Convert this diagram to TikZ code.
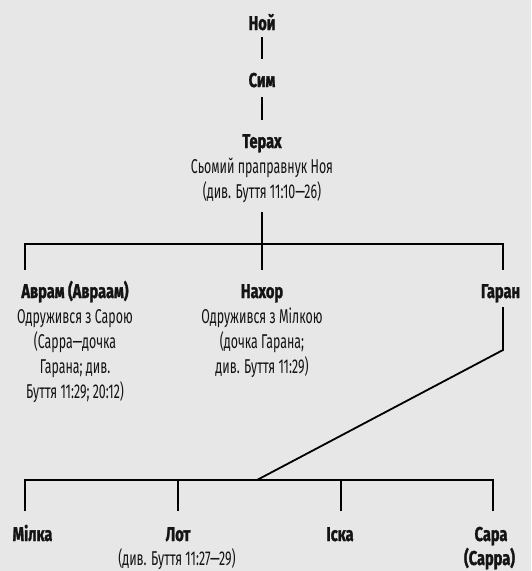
\documentclass[tikz,border=0pt]{standalone}
\usepackage{fontspec}
\setmainfont[FakeStretch=0.62,BoldFeatures={FakeStretch=0.73,FakeBold=1.4}]{Fira Sans}
\definecolor{bg}{RGB}{231,231,231}
\definecolor{ink}{RGB}{20,20,20}
\begin{document}
\begin{tikzpicture}[x=1pt,y=-1pt,line width=1.8pt,
  nm/.style={font=\fontsize{20}{24}\selectfont\bfseries,inner sep=0pt,anchor=base,text=ink},
  ds/.style={font=\fontsize{20}{24}\selectfont,inner sep=0pt,anchor=base,text=ink}]
\fill[bg] (0,0) rectangle (531,571);
\useasboundingbox (0,0) rectangle (531,571);
% names
\node[nm] (noi) at (262,30) {Ной};
\node[nm] (sim) at (262,87) {Сим};
\node[nm] (terah) at (262,148) {Терах};
\node[ds] (terah1) at (262,173) {Сьомий праправнук Ноя};
\node[ds] (terah2) at (262,198) {(див. Буття 11:10—26)};
\node[nm] (avram) at (75,298) {Аврам (Авраам)};
\node[ds] (avram1) at (75,323) {Одружився з Сарою};
\node[ds] (avram2) at (75,348) {(Сарра—дочка};
\node[ds] (avram3) at (75,373) {Гарана; див.};
\node[ds] (avram4) at (75,398) {Буття 11:29; 20:12)};
\node[nm] (nahor) at (262,298) {Нахор};
\node[ds] (nahor1) at (262,323) {Одружився з Мілкою};
\node[ds] (nahor2) at (262,348) {(дочка Гарана;};
\node[ds] (nahor3) at (262,373) {див. Буття 11:29)};
\node[nm] (garan) at (500.5,298) {Гаран};
\node[nm] (milka) at (32.5,541) {Мілка};
\node[nm] (lot) at (178,541) {Лот};
\node[ds] (lot1) at (177,565) {(див. Буття 11:27—29)};
\node[nm] (iska) at (340,541) {Іска};
\node[nm] (sara) at (491,541) {Сара};
\node[nm] (sara1) at (489.5,565) {(Сарра)};
% junction coordinates
\coordinate (busL) at (25,244);
\coordinate (busR) at (503,244);
\coordinate (avTop) at (25,270);
\coordinate (gaTop) at (503,270);
\coordinate (gaDown) at (503,307);
\coordinate (gaBend) at (503,350);
\coordinate (kid) at (257,480);
\coordinate (bus2L) at (25,480);
\coordinate (bus2R) at (493,480);
\coordinate (miTop) at (25,511);
\coordinate (loJ) at (178,480);
\coordinate (loTop) at (178,511);
\coordinate (isJ) at (341,480);
\coordinate (isTop) at (341,511);
\coordinate (saTop) at (493,511);
% connectors
\draw ([yshift=-7pt]noi.base) -- ([yshift=28pt]sim.base);
\draw ([yshift=-10pt]sim.base) -- ([yshift=28pt]terah.base);
\draw ([yshift=-14pt]terah2.base) -- ([yshift=28pt]nahor.base);
\draw (avTop) -- (busL) -- (busR) -- (gaTop);
\draw (gaDown) -- (gaBend) -- (kid);
\draw (miTop) -- (bus2L) -- (bus2R) -- (saTop);
\draw (loJ) -- (loTop);
\draw (isJ) -- (isTop);
\end{tikzpicture}
\end{document}
